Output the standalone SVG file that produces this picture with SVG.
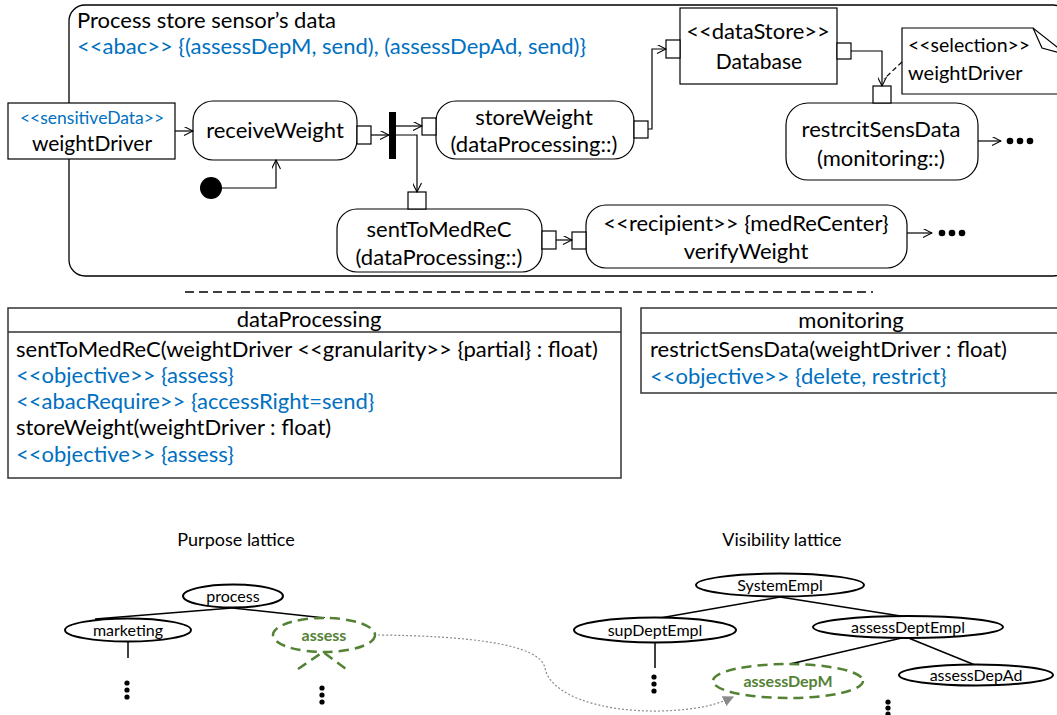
<svg xmlns="http://www.w3.org/2000/svg" width="1057" height="715" viewBox="0 0 1057 715">
<defs>
<marker id="open" viewBox="0 0 10 10" refX="10" refY="5" markerWidth="11" markerHeight="9" markerUnits="userSpaceOnUse" orient="auto">
<path d="M0,0 L10,5 L0,10" fill="none" stroke="#000" stroke-width="1.2"/>
</marker>
<marker id="grayTri" viewBox="0 0 10 10" refX="9" refY="5" markerWidth="11" markerHeight="11" markerUnits="userSpaceOnUse" orient="auto">
<path d="M0,0 L10,5 L0,10 Z" fill="#8a8a8a"/>
</marker>
<style>
text{font-family:Lato,"Liberation Sans",sans-serif;fill:#000}
.t22{font-size:22px}
.t21{font-size:21px}
.t20{font-size:20px}
.t195{font-size:19.5px}
.t18{font-size:18px}
.t175{font-size:17.5px}
.t16{font-size:16px}
.blue{fill:#0070C0}
.green{fill:#548235;font-weight:bold}
.mid{text-anchor:middle}
.node{fill:#fff;stroke:#000;stroke-width:1.2}
.pin{fill:#fff;stroke:#000;stroke-width:1.2}
.conn{fill:none;stroke:#000;stroke-width:1.2}
.lat{fill:#fff;stroke:#000;stroke-width:2}
.latg{fill:#fff;stroke:#548235;stroke-width:2.5;stroke-dasharray:10,6}
.ln{stroke:#000;stroke-width:1.5;fill:none}
</style>
</defs>
<rect width="1057" height="715" fill="#fff"/>

<g id="frame">
<rect x="69" y="5" width="1000" height="271" rx="16" fill="none" stroke="#000" stroke-width="1.3"/>
<text x="77" y="28" class="t22">Process store sensor’s data</text>
<text x="77" y="54" class="t22 blue">&lt;&lt;abac&gt;&gt; {(assessDepM, send), (assessDepAd, send)}</text>
</g>

<g id="weightDriverObj">
<rect x="8" y="103" width="167" height="56" class="node"/>
<text x="92" y="124" class="t175 blue mid">&lt;&lt;sensitiveData&gt;&gt;</text>
<text x="92" y="151" class="t21 mid">weightDriver</text>
</g>

<g id="receiveWeight">
<rect x="193" y="101" width="164" height="59" rx="20" class="node"/>
<text x="275" y="138" class="t22 mid">receiveWeight</text>
<rect x="357" y="126" width="14" height="18" class="pin"/>
</g>

<g id="initial">
<circle cx="211" cy="188" r="11" fill="#000"/>
</g>

<g id="fork">
<rect x="389" y="112" width="7" height="47" fill="#000"/>
</g>

<g id="storeWeight">
<rect x="436" y="101" width="198" height="58" rx="20" class="node"/>
<text x="534" y="125" class="t22 mid">storeWeight</text>
<text x="534" y="152" class="t22 mid">(dataProcessing::)</text>
<rect x="422" y="118" width="14" height="17" class="pin"/>
<rect x="634" y="121" width="14" height="17" class="pin"/>
</g>

<g id="database">
<rect x="680" y="8" width="157" height="76" class="node"/>
<text x="758" y="39" class="t22 mid">&lt;&lt;dataStore&gt;&gt;</text>
<text x="759" y="69" class="t21 mid">Database</text>
<rect x="666" y="40" width="14" height="18" class="pin"/>
<rect x="837" y="43" width="14" height="16" class="pin"/>
</g>

<g id="selectionNote">
<polygon points="902,28 1033,28 1080,65 1080,94 902,94" fill="#fff" stroke="#000" stroke-width="1.2"/>
<polyline points="1033,28 1042,48 1060,53" fill="none" stroke="#000" stroke-width="1.2"/>
<text x="908" y="52" class="t195">&lt;&lt;selection&gt;&gt;</text>
<text x="908" y="80" class="t20">weightDriver</text>
</g>

<g id="restrcitSensData">
<rect x="786" y="103" width="192" height="77" rx="22" class="node"/>
<text x="881" y="137" class="t22 mid">restrcitSensData</text>
<text x="881" y="166" class="t22 mid">(monitoring::)</text>
<rect x="873" y="86" width="18" height="17" class="pin"/>
<circle cx="1010" cy="141" r="3.3" fill="#000"/>
<circle cx="1020" cy="141" r="3.3" fill="#000"/>
<circle cx="1030" cy="141" r="3.3" fill="#000"/>
</g>

<g id="sentToMedReC">
<rect x="337" y="209" width="205" height="63" rx="20" class="node"/>
<text x="439" y="237" class="t22 mid">sentToMedReC</text>
<text x="439" y="265" class="t22 mid">(dataProcessing::)</text>
<rect x="408" y="192" width="18" height="17" class="pin"/>
<rect x="542" y="231" width="14" height="18" class="pin"/>
</g>

<g id="verifyWeight">
<rect x="586" y="205" width="321" height="63" rx="20" class="node"/>
<text x="746" y="231" class="t22 mid">&lt;&lt;recipient&gt;&gt; {medReCenter}</text>
<text x="746" y="259" class="t22 mid">verifyWeight</text>
<rect x="572" y="232" width="14" height="17" class="pin"/>
<circle cx="942" cy="233" r="3.3" fill="#000"/>
<circle cx="952" cy="233" r="3.3" fill="#000"/>
<circle cx="962" cy="233" r="3.3" fill="#000"/>
</g>

<g id="connectors">
<path d="M175,131 H193" class="conn" marker-end="url(#open)"/>
<path d="M371,135 H389" class="conn" marker-end="url(#open)"/>
<path d="M396,126 H422" class="conn" marker-end="url(#open)"/>
<path d="M396,135 H417 V192" class="conn" marker-end="url(#open)"/>
<path d="M222,188 H276 V160" class="conn" marker-end="url(#open)"/>
<path d="M648,129 H652 V49 H666" class="conn" marker-end="url(#open)"/>
<path d="M851,51 H882 V86" class="conn" marker-end="url(#open)"/>
<path d="M902,62 L884,79" class="conn" stroke-dasharray="5,3"/>
<path d="M978,141 H1001" class="conn" marker-end="url(#open)"/>
<path d="M556,240 H572" class="conn" marker-end="url(#open)"/>
<path d="M907,233 H932" class="conn" marker-end="url(#open)"/>
<path d="M185,292 H873" fill="none" stroke="#000" stroke-width="1.5" stroke-dasharray="9,5"/>
</g>

<g id="dataProcessing">
<rect x="8" y="308" width="613" height="170" fill="#fff" stroke="#333" stroke-width="1.5"/>
<line x1="8" y1="332" x2="621" y2="332" stroke="#333" stroke-width="1.5"/>
<text x="309" y="327" class="t22 mid">dataProcessing</text>
<text x="16" y="357" class="t22">sentToMedReC(weightDriver &lt;&lt;granularity&gt;&gt; {partial} : float)</text>
<text x="16" y="383" class="t22 blue">&lt;&lt;objective&gt;&gt; {assess}</text>
<text x="16" y="409" class="t22 blue">&lt;&lt;abacRequire&gt;&gt; {accessRight=send}</text>
<text x="16" y="435" class="t22">storeWeight(weightDriver : float)</text>
<text x="16" y="462" class="t22 blue">&lt;&lt;objective&gt;&gt; {assess}</text>
</g>

<g id="monitoring">
<rect x="641" y="308" width="420" height="85" fill="#fff" stroke="#333" stroke-width="1.5"/>
<line x1="641" y1="333" x2="1061" y2="333" stroke="#333" stroke-width="1.5"/>
<text x="851" y="328" class="t22 mid">monitoring</text>
<text x="650" y="357" class="t22">restrictSensData(weightDriver : float)</text>
<text x="650" y="384" class="t22 blue">&lt;&lt;objective&gt;&gt; {delete, restrict}</text>
</g>

<g id="purposeLattice">
<text x="236" y="546" class="t18 mid">Purpose lattice</text>
<path d="M232,608 L95,619" class="ln"/>
<path d="M232,608 L325,618" class="ln"/>
<path d="M128,642 V658" class="ln"/>
<path d="M298,669 L323,652 L346,669" fill="none" stroke="#548235" stroke-width="2.5" stroke-dasharray="10,6"/>
<ellipse cx="233" cy="596" rx="50" ry="11.5" class="lat"/>
<text x="233" y="602" class="t16 mid">process</text>
<ellipse cx="128" cy="630" rx="63" ry="11.5" class="lat"/>
<text x="128" y="636" class="t16 mid">marketing</text>
<ellipse cx="324" cy="635" rx="51" ry="17" class="latg"/>
<text x="324" y="641" class="t16 mid green">assess</text>
<circle cx="127" cy="683" r="2.6" fill="#000"/>
<circle cx="127" cy="690" r="2.6" fill="#000"/>
<circle cx="127" cy="697" r="2.6" fill="#000"/>
<circle cx="322" cy="688" r="2.6" fill="#000"/>
<circle cx="322" cy="695" r="2.6" fill="#000"/>
<circle cx="322" cy="702" r="2.6" fill="#000"/>
</g>

<g id="visibilityLattice">
<text x="782" y="546" class="t18 mid">Visibility lattice</text>
<path d="M780,597 L660,618" class="ln"/>
<path d="M780,597 L907,617" class="ln"/>
<path d="M906,637 L790,664" class="ln"/>
<path d="M906,637 L975,665" class="ln"/>
<path d="M655,643 V668" class="ln"/>
<ellipse cx="780" cy="585" rx="84" ry="11.5" class="lat"/>
<text x="780" y="591" class="t16 mid">SystemEmpl</text>
<ellipse cx="655" cy="630" rx="81" ry="12.5" class="lat"/>
<text x="655" y="636" class="t16 mid">supDeptEmpl</text>
<ellipse cx="908" cy="627" rx="95" ry="11" class="lat"/>
<text x="908" y="633" class="t16 mid">assessDeptEmpl</text>
<ellipse cx="976" cy="675" rx="77" ry="10.5" class="lat"/>
<text x="976" y="681" class="t16 mid">assessDepAd</text>
<ellipse cx="788" cy="681" rx="75" ry="17" class="latg"/>
<text x="788" y="687" class="t16 mid green">assessDepM</text>
<circle cx="654" cy="677" r="2.6" fill="#000"/>
<circle cx="654" cy="684" r="2.6" fill="#000"/>
<circle cx="654" cy="691" r="2.6" fill="#000"/>
<circle cx="888" cy="702" r="2.6" fill="#000"/>
<circle cx="888" cy="708" r="2.6" fill="#000"/>
<circle cx="888" cy="714" r="2.6" fill="#000"/>
</g>

<g id="mapping">
<path d="M378,635 C470,636 540,644 545,668 C550,695 600,712 660,711 C700,710 718,704 733,697" fill="none" stroke="#8a8a8a" stroke-width="1.2" stroke-dasharray="2,2" marker-end="url(#grayTri)"/>
</g>
</svg>
